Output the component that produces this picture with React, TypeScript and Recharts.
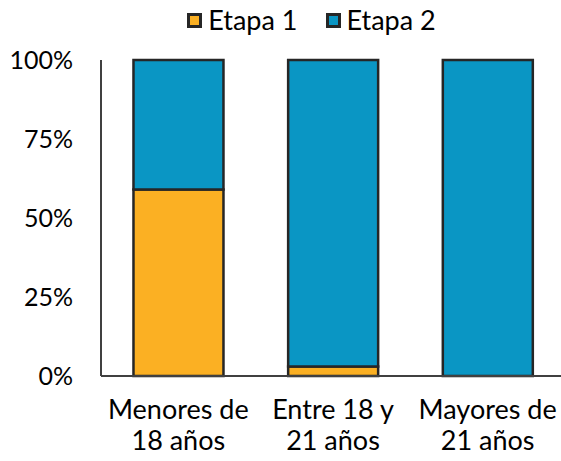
import React from "react";
import { BarChart, Bar, XAxis, YAxis } from "recharts";

const categories = ["Menores de|18 años", "Entre 18 y|21 años", "Mayores de|21 años"];
const etapa1 = [59, 3, 0];
const etapa2 = [41, 97, 100];
const yTicks = [0, 25, 50, 75, 100];
const seriesNames = ["Etapa 1", "Etapa 2"];
const seriesColors = ["#FBB023", "#0A96C4"];

const data = categories.map((c, i) => ({ name: c, e1: etapa1[i], e2: etapa2[i] }));

const FONT = "Lato, 'Open Sans', sans-serif";
const BORDER = "#262626";

const XTick = (props: any) => {
  const { x, y, payload } = props;
  const lines = String(payload.value).split("|");
  return (
    <text x={x} y={y} textAnchor="middle" fill="#000" fontSize={27} fontFamily={FONT}>
      {lines.map((l: string, i: number) => (
        <tspan key={i} x={x} dy={i === 0 ? 35 : 31}>
          {l}
        </tspan>
      ))}
    </text>
  );
};

export default function App() {
  return (
    <div style={{ position: "absolute", left: 0, top: 0, width: 561, height: 461, overflow: "hidden", background: "#fff" }}>
      <div style={{ position: "absolute", top: 3, left: 0, width: 561, display: "flex", justifyContent: "center", paddingLeft: 62, boxSizing: "border-box", fontFamily: FONT, fontSize: 27, color: "#000", lineHeight: "34px" }}>
        {seriesNames.map((n, i) => (
          <div key={n} style={{ display: "flex", alignItems: "center", marginRight: i === 0 ? 28 : 0 }}>
            <div style={{ width: 9, height: 9, background: seriesColors[i], border: `3px solid ${BORDER}`, marginRight: 6 }} />
            <span>{n}</span>
          </div>
        ))}
      </div>
      <BarChart width={566} height={461} data={data} margin={{ top: 60, right: 1, bottom: 0, left: 0 }} barCategoryGap="21%">
        <XAxis dataKey="name" tick={<XTick />} tickLine={false} axisLine={{ stroke: "#404040", strokeWidth: 2 }} height={85} interval={0} />
        <YAxis
          width={101}
          domain={[0, 100]}
          ticks={yTicks}
          tickFormatter={(v: number) => `${v}%`}
          tickLine={false}
          tickSize={0}
          tickMargin={28}
          axisLine={{ stroke: "#404040", strokeWidth: 2 }}
          tick={{ fill: "#000", fontSize: 25, fontFamily: FONT }}
          interval={0}
        />
        <Bar dataKey="e1" stackId="a" fill={seriesColors[0]} stroke={BORDER} strokeWidth={2.5} isAnimationActive={false} />
        <Bar dataKey="e2" stackId="a" fill={seriesColors[1]} stroke={BORDER} strokeWidth={2.5} isAnimationActive={false} />
      </BarChart>
    </div>
  );
}
